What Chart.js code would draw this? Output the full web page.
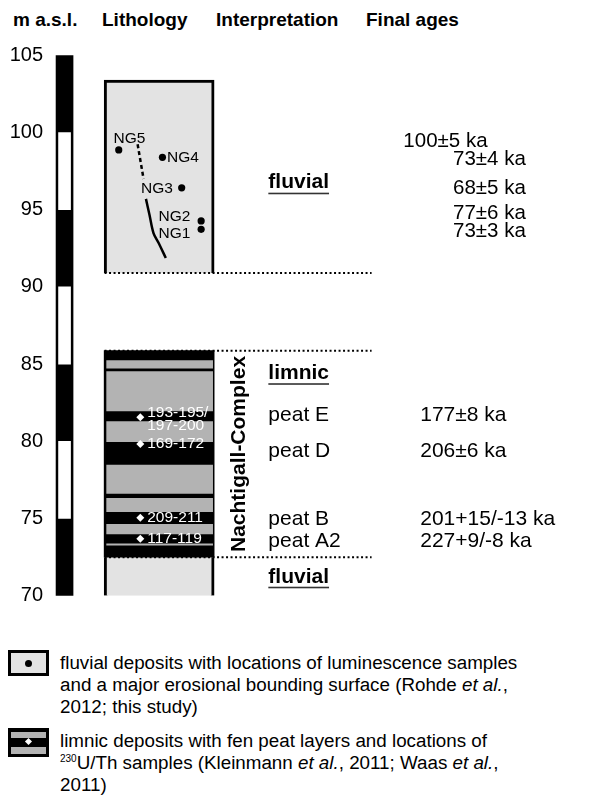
<!DOCTYPE html>
<html>
<head>
<meta charset="utf-8">
<title>Nachtigall section</title>
<script src="https://cdn.jsdelivr.net/npm/chart.js@4.4.1/dist/chart.umd.min.js"></script>
<style>
  body { margin: 0; background: #fff; font-family: 'Liberation Sans', Arial, sans-serif; color: #000; }
  #wrap { position: absolute; left: 0; top: 0; width: 590px; height: 620px; }
  .head { position: absolute; top: 9px; font-weight: bold; font-size: 19px; line-height: 22px; white-space: nowrap; }
  .keytext { position: absolute; left: 60px; font-size: 18.8px; line-height: 21.8px; white-space: nowrap; }
  .keytext sup { font-size: 10px; vertical-align: 7px; line-height: 0; }
  .icon { position: absolute; left: 8px; width: 41px; box-sizing: border-box; border: 3px solid #000; }
</style>
</head>
<body>
<div class="head" style="left:13px">m a.s.l.</div>
<div class="head" style="left:102px">Lithology</div>
<div class="head" style="left:216px">Interpretation</div>
<div class="head" style="left:366px">Final ages</div>

<div id="wrap"><canvas id="chart"></canvas></div>

<div class="icon" style="top:650px;height:26px;background:#e3e3e3">
  <div style="position:absolute;left:14px;top:7px;width:7px;height:7px;border-radius:50%;background:#000"></div>
</div>
<div class="keytext" style="top:652px">fluvial deposits with locations of luminescence samples<br>and a major erosional bounding surface (Rohde <i>et al.</i>,<br>2012; this study)</div>

<div class="icon" style="top:728px;height:29px;background:#000">
  <div style="position:absolute;left:0;right:0;top:1px;height:6px;background:#b3b3b3"></div>
  <div style="position:absolute;left:15px;top:8px;width:5px;height:5px;background:#fff;transform:rotate(45deg)"></div>
  <div style="position:absolute;left:0;right:0;top:16px;height:7px;background:#b3b3b3"></div>
</div>
<div class="keytext" style="top:730px">limnic deposits with fen peat layers and locations of<br><sup>230</sup>U/Th samples (Kleinmann <i>et al.</i>, 2011; Waas <i>et al.</i>,<br>2011)</div>

<script>
'use strict';

const FONT = "'Liberation Sans', Arial, sans-serif";

// elevation axis (m a.s.l.)
let elevMin = 70;
let elevMax = 105;
let elevStep = 5;
let scaleWhite = [[75, 80], [85, 90], [95, 100]];

// upper fluvial unit
let upperFluvial = [90.9, 103.4];
let ngNames = ['NG1', 'NG2', 'NG3', 'NG4', 'NG5'];
let ngElev = [93.73, 94.27, 96.42, 98.39, 98.87];
let ngAges = ['73±3 ka', '77±6 ka', '68±5 ka', '73±4 ka', '100±5 ka'];
let ngAgeElev = [93.62, 94.77, 96.39, 98.26, 99.40];

// erosional bounding surface
let surfaceDashed = [99.24, 96.99];
let surfaceSolid = [95.70, 94.66, 93.49, 92.84, 91.87];

// lower unit: peat base and limnic (grey) layers, bottom fluvial
let lowerFluvial = [70, 72.49];
let peatBase = [72.49, 85.87];
let limnicLayers = [[73.28, 73.36], [74.0, 74.62], [75.44, 76.31], [76.63, 78.46], [79.97, 81.27], [81.96, 84.51], [84.73, 85.22]];

// 230U/Th samples
let uthElev = [81.55, 79.82, 75.05, 73.69];
let uthNames = [['193-195/', '197-200'], ['169-172'], ['209-211'], ['117-119']];

// interpretation
let interpLabels = ['fluvial', 'limnic', 'fluvial'];
let interpElev = [96.75, 84.41, 71.23];
let peatNames = ['peat E', 'peat D', 'peat B', 'peat A2'];
let peatElev = [81.70, 79.33, 74.97, 73.50];
let peatAges = ['177±8 ka', '206±6 ka', '201+15/-13 ka', '227+9/-8 ka'];

// layout (horizontal positions of the columns, in canvas px)
let scaleX = 64.7;
let lithoX = 160;
let lithoLeft = 105;
let lineEnd = 374;
let ngX = [202.3, 202.3, 182.7, 163.3, 119.3];
let ngLabelPos = [[159.3, 93.47], [159.3, 94.55], [141.7, 96.34], [168, 98.39], [114, 99.62]];
let ngAgeX = [456, 456, 456, 456, 406];
let surfaceDashedX = [138.3, 144.3];
let surfaceSolidX = [146.7, 150.3, 154.3, 159.5, 166.7];
let uthX = 141;
let uthLabelX = 148;
let interpX = 270;
let ageX = 423;

function pts(xs, ys) {
    let out = [];
    for (let i = 0; i < ys.length; i++) {
        out.push({ x: Array.isArray(xs) ? xs[i] : xs, y: ys[i] });
    }
    return out;
}

function hline(elev) {
    return [{ x: lithoLeft, y: elev }, { x: lineEnd, y: elev }];
}

let textPlugin = {
    id: 'columnText',
    afterDatasetsDraw(chart) {
        let ctx = chart.ctx;
        let x = chart.scales.x;
        let y = chart.scales.y;
        ctx.save();
        ctx.textBaseline = 'middle';
        ctx.textAlign = 'left';

        function put(txt, xv, ev, font, color) {
            ctx.font = font;
            ctx.fillStyle = color;
            ctx.fillText(txt, x.getPixelForValue(xv), y.getPixelForValue(ev));
        }

        // NG sample labels
        for (let i = 0; i < ngNames.length; i++) {
            put(ngNames[i], ngLabelPos[i][0], ngLabelPos[i][1], '15.5px ' + FONT, '#000');
        }
        // luminescence ages
        for (let i = 0; i < ngAges.length; i++) {
            put(ngAges[i], ngAgeX[i], ngAgeElev[i], '20.5px ' + FONT, '#000');
        }
        // U/Th labels (white on the peat)
        for (let i = 0; i < uthNames.length; i++) {
            let lines = uthNames[i];
            for (let j = 0; j < lines.length; j++) {
                let ev = uthElev[i] + (lines.length > 1 ? 0.28 - j * 0.84 : 0);
                put(lines[j], uthLabelX, ev, '15.5px ' + FONT, '#fff');
            }
        }
        // interpretation (bold, underlined)
        for (let i = 0; i < interpLabels.length; i++) {
            ctx.font = 'bold 21px ' + FONT;
            let px = x.getPixelForValue(interpX);
            let py = y.getPixelForValue(interpElev[i]);
            ctx.fillStyle = '#000';
            ctx.fillText(interpLabels[i], px, py);
            let w = ctx.measureText(interpLabels[i]).width;
            ctx.fillStyle = '#333';
            ctx.fillRect(px, py + 10, w, 1.6);
        }
        for (let i = 0; i < peatNames.length; i++) {
            put(peatNames[i], interpX, peatElev[i], '21px ' + FONT, '#000');
            put(peatAges[i], ageX, peatElev[i], '21px ' + FONT, '#000');
        }
        // rotated unit name
        ctx.translate(x.getPixelForValue(240), y.getPixelForValue(79.18));
        ctx.rotate(-Math.PI / 2);
        ctx.textAlign = 'center';
        ctx.font = 'bold 21px ' + FONT;
        ctx.fillStyle = '#000';
        ctx.fillText('Nachtigall-Complex', 0, 1);
        ctx.restore();
    }
};

let ctx = document.getElementById('chart').getContext('2d');
let myChart = new Chart(ctx, {
    type: 'bar',
    data: {
        datasets: [
            {
                type: 'scatter', label: 'luminescence samples', order: 1,
                data: pts(ngX, ngElev),
                pointStyle: 'circle', pointRadius: 3.6, backgroundColor: '#000', borderWidth: 0
            },
            {
                type: 'scatter', label: 'U/Th samples', order: 1,
                data: pts(uthX, uthElev),
                pointStyle: 'rectRot', pointRadius: 4, backgroundColor: '#fff', borderWidth: 0
            },
            {
                type: 'line', label: 'surface dashed', order: 2,
                data: pts(surfaceDashedX, surfaceDashed),
                borderColor: '#000', borderWidth: 2.5, borderDash: [4, 3], pointRadius: 0
            },
            {
                type: 'line', label: 'surface', order: 2,
                data: pts(surfaceSolidX, surfaceSolid),
                borderColor: '#000', borderWidth: 2.5, tension: 0.35, pointRadius: 0
            },
            {
                type: 'line', label: 'top lower unit', order: 3,
                data: hline(peatBase[1]),
                borderColor: '#000', borderWidth: 2, borderDash: [2, 2.5], pointRadius: 0
            },
            {
                type: 'line', label: 'base upper unit', order: 3,
                data: hline(upperFluvial[0]),
                borderColor: '#000', borderWidth: 2, borderDash: [2, 2.5], pointRadius: 0
            },
            {
                type: 'line', label: 'base limnic', order: 3,
                data: hline(peatBase[0]),
                borderColor: '#000', borderWidth: 2, borderDash: [2, 2.5], pointRadius: 0
            },
            {
                label: 'limnic', order: 4, grouped: false,
                data: pts(lithoX + 0.5, limnicLayers),
                barThickness: 106, backgroundColor: '#b3b3b3', borderWidth: 0
            },
            {
                label: 'peat', order: 5, grouped: false,
                data: [{ x: lithoX, y: peatBase }],
                barThickness: 110, backgroundColor: '#000', borderWidth: 0
            },
            {
                label: 'fluvial lower', order: 5, grouped: false,
                data: [{ x: lithoX, y: lowerFluvial }],
                barThickness: 110, backgroundColor: '#e3e3e3', borderColor: '#000',
                borderWidth: { left: 3, right: 3, top: 0, bottom: 0 }, borderSkipped: false
            },
            {
                label: 'fluvial upper', order: 5, grouped: false,
                data: [{ x: lithoX, y: upperFluvial }],
                barThickness: 110, backgroundColor: '#e3e3e3', borderColor: '#000',
                borderWidth: { left: 3, right: 3, top: 3, bottom: 0 }, borderSkipped: false
            },
            {
                label: 'scale white', order: 4, grouped: false,
                data: pts(scaleX, scaleWhite),
                barThickness: 12, backgroundColor: '#fff', borderWidth: 0
            },
            {
                label: 'scale', order: 5, grouped: false,
                data: [{ x: scaleX, y: [elevMin, elevMax] }],
                barThickness: 17, backgroundColor: '#000', borderWidth: 0
            }
        ]
    },
    options: {
        responsive: true,
        maintainAspectRatio: false,
        animation: false,
        layout: { padding: { top: 55.3, bottom: 24.3, left: 0, right: 0 } },
        plugins: { legend: { display: false }, tooltip: { enabled: false } },
        scales: {
            x: { type: 'linear', display: false, min: 44, max: 590, offset: false, grid: { offset: false } },
            y: {
                type: 'linear', min: elevMin, max: elevMax,
                ticks: { stepSize: elevStep, color: '#000', padding: 1, font: { size: 20, family: FONT } },
                grid: { display: false, drawTicks: false },
                border: { display: false },
                afterFit: function (scale) { scale.width = 44; }
            }
        }
    },
    plugins: [textPlugin]
});
</script>
</body>
</html>
